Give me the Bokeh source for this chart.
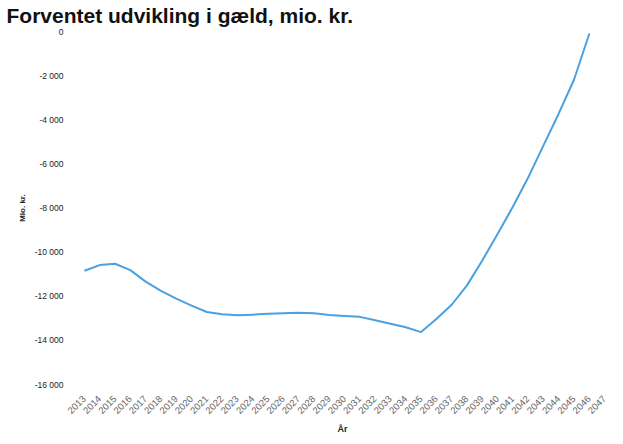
import math
from bokeh.plotting import figure
from bokeh.models import Range1d, FixedTicker
from bokeh.embed import file_html
from bokeh.resources import INLINE

# ---- data ----
years = list(range(2013, 2047))
debt = [-10840, -10580, -10520, -10810, -11330, -11750, -12100, -12420,
        -12710, -12810, -12860, -12830, -12790, -12760, -12740, -12770,
        -12840, -12890, -12930, -13080, -13240, -13400, -13620, -13030,
        -12380, -11500, -10370, -9170, -7930, -6610, -5150, -3700,
        -2160, -70]

x_ticks = list(range(2013, 2048))
x_tick_labels = [str(y) for y in x_ticks]
y_ticks = [0, -2000, -4000, -6000, -8000, -10000, -12000, -14000, -16000]
y_tick_labels = ["0", "-2 000", "-4 000", "-6 000", "-8 000", "-10 000",
                 "-12 000", "-14 000", "-16 000"]

title_text = "Forventet udvikling i gæld, mio. kr."
x_title = "År"
y_title = "Mio. kr."

FONT = "Liberation Sans"
W, H = 615, 436

p = figure(width=W, height=H, output_backend="svg", toolbar_location=None,
           x_range=Range1d(2012.22, 2047.51), y_range=Range1d(-16180, 200),
           min_border_left=72, min_border_right=3,
           min_border_top=0, min_border_bottom=39)
p.outline_line_color = None
p.background_fill_color = "white"
p.border_fill_color = "white"
p.xgrid.visible = False
p.ygrid.visible = False

p.title.text = title_text
p.title.text_font = FONT
p.title.text_font_size = "21px"
p.title.text_font_style = "bold"
p.title.text_color = "#111111"
p.title.align = "left"
p.title.offset = -66
p.title.standoff = 2

p.line(years, debt, line_color="#4aa0e0", line_width=2, line_join="round")

# x axis
p.xaxis.ticker = FixedTicker(ticks=x_ticks)
p.xaxis.major_label_overrides = {t: l for t, l in zip(x_ticks, x_tick_labels)}
p.xaxis.major_label_orientation = math.pi / 4
p.xaxis.axis_line_color = None
p.xaxis.major_tick_line_color = None
p.xaxis.minor_tick_line_color = None
p.xaxis.major_label_text_font = FONT
p.xaxis.major_label_text_font_size = "9.5px"
p.xaxis.major_label_text_color = "#666666"
p.xaxis.major_label_standoff = 3
p.xaxis.axis_label = x_title
p.xaxis.axis_label_text_font = FONT
p.xaxis.axis_label_text_font_size = "9px"
p.xaxis.axis_label_text_font_style = "bold"
p.xaxis.axis_label_text_color = "#222222"
p.xaxis.axis_label_standoff = 4

# y axis
p.yaxis.ticker = FixedTicker(ticks=y_ticks)
p.yaxis.major_label_overrides = {t: l for t, l in zip(y_ticks, y_tick_labels)}
p.yaxis.axis_line_color = None
p.yaxis.major_tick_line_color = None
p.yaxis.minor_tick_line_color = None
p.yaxis.major_label_text_font = FONT
p.yaxis.major_label_text_font_size = "8.5px"
p.yaxis.major_label_text_color = "#222222"
p.yaxis.major_label_standoff = 3
p.yaxis.axis_label = y_title
p.yaxis.axis_label_text_font = FONT
p.yaxis.axis_label_text_font_size = "8px"
p.yaxis.axis_label_text_font_style = "bold"
p.yaxis.axis_label_text_color = "#222222"
p.yaxis.axis_label_standoff = 5

open("out.html", "w").write(file_html(p, INLINE))
